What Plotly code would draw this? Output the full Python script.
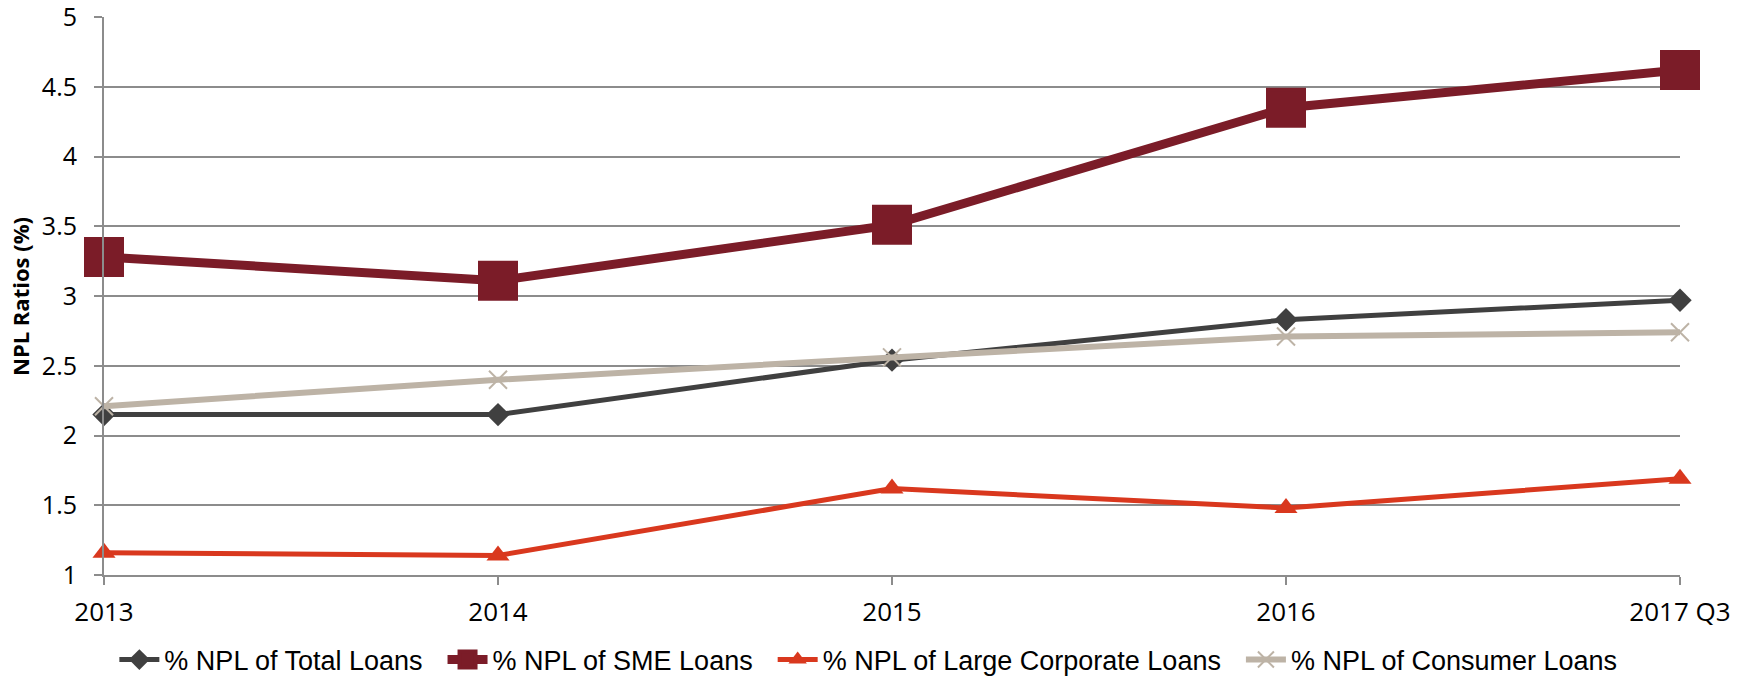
import plotly.graph_objects as go

categories = ["2013", "2014", "2015", "2016", "2017 Q3"]
total_loans = [2.15, 2.15, 2.54, 2.83, 2.97]
sme_loans = [3.28, 3.11, 3.51, 4.35, 4.62]
large_corp_loans = [1.16, 1.14, 1.62, 1.48, 1.69]
consumer_loans = [2.21, 2.40, 2.56, 2.71, 2.74]

y_ticks = [1, 1.5, 2, 2.5, 3, 3.5, 4, 4.5, 5]
y_tick_text = ["1", "1.5", "2", "2.5", "3", "3.5", "4", "4.5", "5"]

GAP = "\u00a0\u00a0"

fig = go.Figure()
fig.add_trace(go.Scatter(x=categories, y=total_loans, name="% NPL of Total Loans" + GAP,
                         mode="lines+markers", cliponaxis=False,
                         line=dict(color="#404040", width=5),
                         marker=dict(symbol="diamond", size=18, color="#404040")))
fig.add_trace(go.Scatter(x=categories, y=sme_loans, name="% NPL of SME Loans" + GAP,
                         mode="lines+markers", cliponaxis=False,
                         line=dict(color="#7B1C28", width=9),
                         marker=dict(symbol="square", size=36, color="#7B1C28",
                                     line=dict(color="#7B1C28", width=4))))
fig.add_trace(go.Scatter(x=categories, y=large_corp_loans, name="% NPL of Large Corporate Loans" + GAP,
                         mode="lines+markers", cliponaxis=False,
                         line=dict(color="#D9381E", width=5),
                         marker=dict(symbol="triangle-up", size=20, color="#D9381E")))
fig.add_trace(go.Scatter(x=categories, y=consumer_loans, name="% NPL of Consumer Loans",
                         mode="lines+markers", cliponaxis=False,
                         line=dict(color="#BDB3A6", width=6),
                         marker=dict(symbol="x-thin", size=18, color="#BDB3A6",
                                     line=dict(color="#BDB3A6", width=2))))

fig.update_layout(
    width=1746, height=679,
    margin=dict(l=104, r=66, t=17, b=104, autoexpand=False),
    plot_bgcolor="white", paper_bgcolor="white",
    font=dict(family="Open Sans", size=22, color="#000000"),
    showlegend=True,
    legend=dict(orientation="h", x=0.485, xanchor="center",
                yref="container", y=0.028, yanchor="middle",
                font=dict(family="Liberation Sans", size=27, color="#000000"),
                itemwidth=40, tracegroupgap=0),
    xaxis=dict(type="category", range=[0, 4], showgrid=False, automargin=False,
               showline=True, linecolor="#8c8c8c", linewidth=2,
               ticks="outside", ticklen=8, tickcolor="#8c8c8c", tickwidth=2,
               ticklabelstandoff=5, ticklabeloverflow="allow",
               tickfont=dict(family="Open Sans", size=26, color="#000000")),
    yaxis=dict(range=[1, 5], tickvals=y_ticks, ticktext=y_tick_text, automargin=False,
               showgrid=True, gridcolor="#8c8c8c", gridwidth=2,
               zeroline=False, showline=True, linecolor="#8c8c8c", linewidth=2,
               ticks="outside", ticklen=8, tickcolor="#8c8c8c", tickwidth=2,
               ticklabelstandoff=12, ticklabeloverflow="allow",
               tickfont=dict(family="Open Sans", size=25, color="#000000")),
    annotations=[dict(text="<b>NPL Ratios (%)</b>", xref="paper", yref="paper",
                      x=-0.0533, y=0.5, xanchor="center", yanchor="middle",
                      textangle=-90, showarrow=False,
                      font=dict(family="Open Sans", size=22, color="#000000"))],
)

fig.write_html("out.html")
